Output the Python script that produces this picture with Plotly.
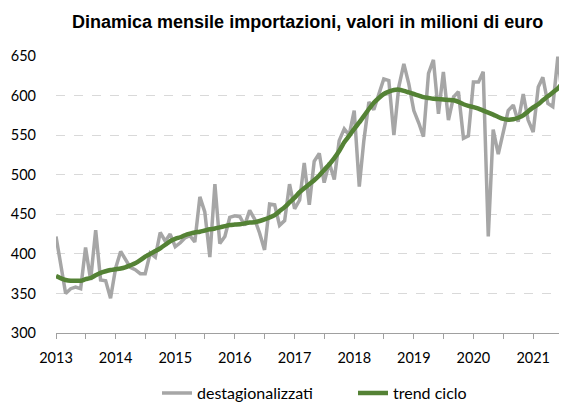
import plotly.graph_objects as go
import pandas as pd

# Monthly dates Jan 2013 - Jul 2021
months = pd.date_range("2013-01-01", "2021-07-01", freq="MS")

destagionalizzati = [
    422, 386, 350, 356, 358, 356, 408, 367, 430, 367, 366, 344,   # 2013
    382, 403, 394, 383, 380, 375, 375, 401, 396, 427, 416, 425,   # 2014
    409, 414, 420, 423, 415, 472, 453, 396, 488, 413, 422, 446,   # 2015
    448, 447, 436, 455, 444, 426, 405, 463, 462, 436, 442, 488,   # 2016
    457, 468, 515, 462, 517, 527, 490, 515, 494, 543, 558, 550,   # 2017
    581, 485, 543, 592, 582, 602, 621, 619, 550, 611, 640, 615,   # 2018
    581, 565, 548, 628, 645, 577, 630, 569, 598, 605, 546, 549,   # 2019
    617, 617, 630, 422, 557, 526, 554, 581, 588, 567, 602, 569,   # 2020
    554, 611, 623, 590, 586, 649, 594,                            # 2021
]

trend_ciclo = [
    372, 369, 367, 366, 366, 366, 368, 369.5, 373, 376, 378, 379.5,
    380.5, 381.5, 383, 385.5, 388, 392, 396.5, 400, 403.5, 407, 411.5, 416,
    419, 421, 423.5, 425.5, 427, 428, 429.5, 431, 432, 433.5, 435, 436.5,
    437, 437.5, 438.5, 439.5, 440, 441.5, 443.5, 446, 449, 454, 459, 465,
    471, 478, 483, 488, 493, 499, 506, 513, 521, 530, 541, 549,
    558, 566, 574, 583, 591, 597, 602, 605, 607, 607.5, 606, 604,
    602, 600, 598, 597, 596, 595.5, 595, 594.5, 594, 592, 589, 587,
    585.5, 583.5, 581, 578.5, 576, 573, 570.5, 569.5, 570, 572, 575, 580,
    585, 589, 594, 599, 604, 609, 616,
]

year_ticks = pd.date_range("2013-01-01", "2021-01-01", freq="YS")
year_labels = [str(d.year) for d in year_ticks]
y_ticks = [300, 350, 400, 450, 500, 550, 600, 650]

fig = go.Figure()
fig.add_trace(go.Scatter(
    x=months, y=destagionalizzati, mode="lines", name="destagionalizzati",
    line=dict(color="#a6a6a6", width=3.5), legend="legend",
))
fig.add_trace(go.Scatter(
    x=months, y=trend_ciclo, mode="lines", name="trend ciclo",
    line=dict(color="#548235", width=4.5, shape="spline", smoothing=0.6),
    legend="legend2",
))

W, H = 559, 397  # page body has an 8px margin
legend_font = dict(family="Lato, Liberation Sans, sans-serif", size=16, color="#000000")

fig.update_layout(
    width=W, height=H,
    margin=dict(l=48, r=0, t=48, b=72, autoexpand=False),
    paper_bgcolor="white", plot_bgcolor="white",
    font=dict(family="Lato, Liberation Sans, sans-serif", size=14.5, color="#000000"),
    title=dict(
        text="<b>Dinamica mensile importazioni, valori in milioni di euro</b>",
        font=dict(family="Liberation Sans, Arial, sans-serif", size=18, color="#000000"),
        x=0.536, xanchor="center", xref="container",
        y=0.965, yanchor="middle", yref="container",
    ),
    showlegend=True,
    legend=dict(
        orientation="h", x=149 / W, xanchor="left", xref="container",
        y=0.03, yanchor="middle", yref="container",
        font=legend_font, bgcolor="rgba(0,0,0,0)",
    ),
    legend2=dict(
        orientation="h", x=345 / W, xanchor="left", xref="container",
        y=0.03, yanchor="middle", yref="container",
        font=legend_font, bgcolor="rgba(0,0,0,0)",
    ),
)

fig.update_xaxes(
    type="date",
    range=["2013-01-01", "2021-07-27"],
    tickvals=year_ticks, ticktext=year_labels,
    ticks="outside", ticklen=5, tickcolor="#a0a0a0", tickwidth=1,
    minor=dict(dtick="M6", tick0="2013-01-01", ticks="outside", ticklen=5,
               tickcolor="#a0a0a0", tickwidth=1, showgrid=False),
    showline=True, linecolor="#a0a0a0", linewidth=1,
    showgrid=False, zeroline=False,
    ticklabelstandoff=7,
)
fig.update_yaxes(
    range=[300, 650], tickvals=y_ticks,
    showgrid=True, gridcolor="#d9d9d9", griddash="dash", gridwidth=1,
    showline=False, zeroline=False, ticks="",
    ticklabelstandoff=19,
)

fig.write_html("out.html")
